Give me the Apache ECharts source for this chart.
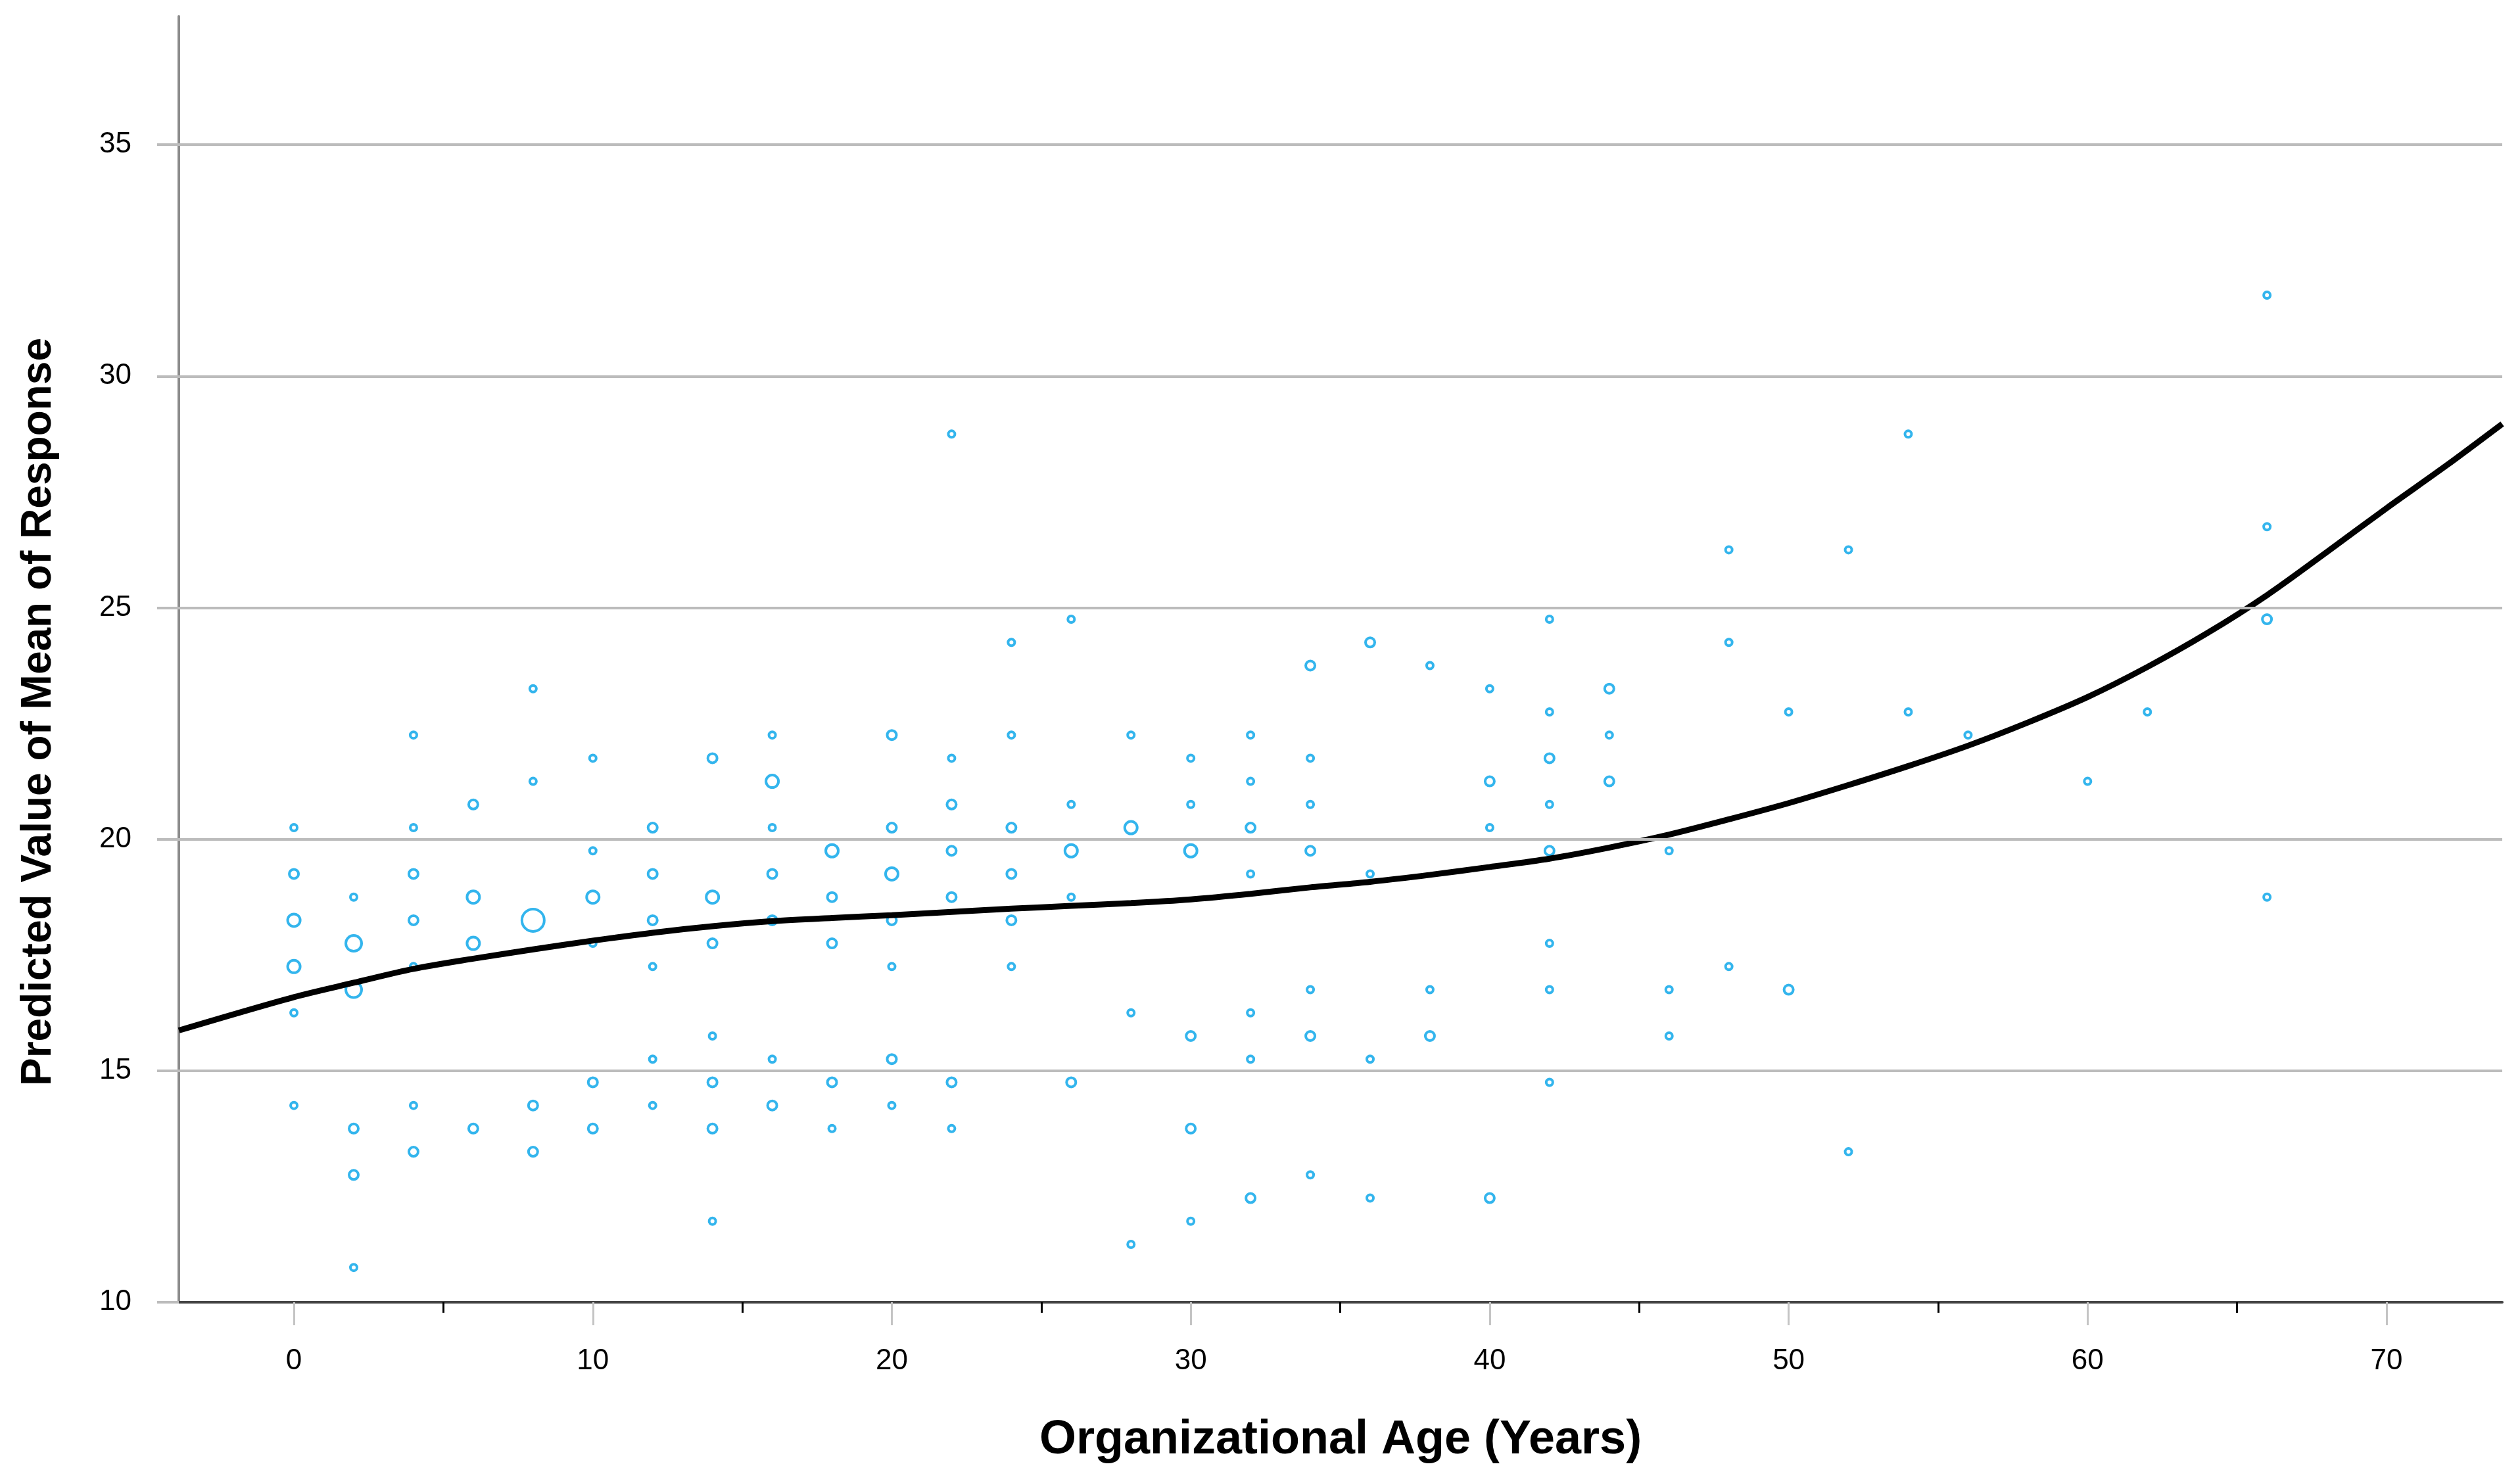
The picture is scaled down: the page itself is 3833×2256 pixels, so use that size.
<!DOCTYPE html>
<html><head><meta charset="utf-8">
<script src="https://cdn.jsdelivr.net/npm/echarts@6/dist/echarts.min.js"></script>
<style>html,body{margin:0;padding:0;background:#fff}#c{width:3833px;height:2256px}</style>
</head><body><div id="c"></div>
<script>
// ---- data ----
const xTickValues = [0, 10, 20, 30, 40, 50, 60, 70];
const xMinorTickValues = [5, 15, 25, 35, 45, 55, 65];
const yTickValues = [10, 15, 20, 25, 30, 35];
const xTitle = 'Organizational Age (Years)';
const yTitle = 'Predicted Value of Mean of Response';

const columnAges = [0, 2, 4, 6, 8, 10, 12, 14, 16, 18, 20, 22, 24, 26, 28, 30, 32, 34, 36, 38, 40, 42, 44, 46, 48, 50, 52, 54, 56, 60, 62, 66];
const columnMeans = [
  [20.25, 19.25, 18.25, 17.25, 16.25, 14.25],
  [18.75, 17.75, 16.75, 13.75, 12.75, 10.75],
  [22.25, 20.25, 19.25, 18.25, 17.25, 14.25, 13.25],
  [20.75, 18.75, 17.75, 13.75],
  [23.25, 21.25, 18.25, 14.25, 13.25],
  [21.75, 19.75, 18.75, 17.75, 14.75, 13.75],
  [20.25, 19.25, 18.25, 17.25, 15.25, 14.25],
  [21.75, 18.75, 17.75, 15.75, 14.75, 13.75, 11.75],
  [22.25, 21.25, 20.25, 19.25, 18.25, 15.25, 14.25],
  [19.75, 18.75, 17.75, 14.75, 13.75],
  [22.25, 20.25, 19.25, 18.25, 17.25, 15.25, 14.25],
  [28.75, 21.75, 20.75, 19.75, 18.75, 14.75, 13.75],
  [24.25, 22.25, 20.25, 19.25, 18.25, 17.25],
  [24.75, 20.75, 19.75, 18.75, 14.75],
  [22.25, 20.25, 16.25, 11.25],
  [21.75, 20.75, 19.75, 15.75, 13.75, 11.75],
  [22.25, 21.25, 20.25, 19.25, 16.25, 15.25, 12.25],
  [23.75, 21.75, 20.75, 19.75, 16.75, 15.75, 12.75],
  [24.25, 19.25, 15.25, 12.25],
  [23.75, 16.75, 15.75],
  [23.25, 21.25, 20.25, 12.25],
  [24.75, 22.75, 21.75, 20.75, 19.75, 17.75, 16.75, 14.75],
  [23.25, 22.25, 21.25],
  [19.75, 16.75, 15.75],
  [26.25, 24.25, 17.25],
  [22.75, 16.75],
  [26.25, 13.25],
  [28.75, 22.75],
  [22.25],
  [21.25],
  [22.75],
  [31.75, 26.75, 24.75, 18.75]
];
const columnCounts = [
  [1, 2, 3, 3, 1, 1],
  [1, 4, 4, 2, 2, 1],
  [1, 1, 2, 2, 1, 1, 2],
  [2, 3, 3, 2],
  [1, 1, 5, 2, 2],
  [1, 1, 3, 1, 2, 2],
  [2, 2, 2, 1, 1, 1],
  [2, 3, 2, 1, 2, 2, 1],
  [1, 3, 1, 2, 2, 1, 2],
  [3, 2, 2, 2, 1],
  [2, 2, 3, 2, 1, 2, 1],
  [1, 1, 2, 2, 2, 2, 1],
  [1, 1, 2, 2, 2, 1],
  [1, 1, 3, 1, 2],
  [1, 3, 1, 1],
  [1, 1, 3, 2, 2, 1],
  [1, 1, 2, 1, 1, 1, 2],
  [2, 1, 1, 2, 1, 2, 1],
  [2, 1, 1, 1],
  [1, 1, 2],
  [1, 2, 1, 2],
  [1, 1, 2, 1, 2, 1, 1, 1],
  [2, 1, 2],
  [1, 1, 1],
  [1, 1, 1],
  [1, 2],
  [1, 1],
  [1, 1],
  [1],
  [1],
  [1],
  [1, 1, 2, 1]
];

// fitted curve
const fitAge   = [-3.85, 0, 2, 4, 6, 8, 10, 12, 14, 16, 18, 20, 22, 24, 26, 28, 30, 32, 34, 36,
                  38, 40, 42, 44, 46, 48, 50, 52, 54, 56, 58, 60, 62, 64, 66, 68, 70, 72, 73.87];
const fitValue = [15.87, 16.59, 16.9, 17.2, 17.42, 17.62, 17.81, 17.98, 18.12, 18.23, 18.3, 18.36, 18.43, 18.5, 18.56, 18.62, 18.7, 18.82, 18.96, 19.08,
                  19.23, 19.4, 19.58, 19.82, 20.1, 20.43, 20.78, 21.17, 21.58, 22.02, 22.52, 23.07, 23.72, 24.45, 25.27, 26.2, 27.15, 28.07, 28.97];

// ---- build ----
const X_MIN = -3.85, X_MAX = 73.87, Y_MIN = 10, Y_MAX = 37.77;
const FONT = '"Liberation Sans", Arial, sans-serif';
const sizeFor = c => ({1: 10, 2: 14, 3: 19, 4: 24, 5: 34})[c];

const scatterData = [];
columnAges.forEach((age, i) => {
  columnMeans[i].forEach((m, j) => scatterData.push([age, m, columnCounts[i][j]]));
});
const fitData = fitAge.map((a, i) => [a, fitValue[i]]);

const gridPos = {left: 272, right: 27, top: 25, bottom: 275, containLabel: false};

const chart = echarts.init(document.getElementById('c'), null, {renderer: 'canvas'});
chart.setOption({
  animation: false,
  backgroundColor: '#ffffff',
  grid: [Object.assign({}, gridPos), Object.assign({}, gridPos)],
  xAxis: [{
    type: 'value', gridIndex: 0, min: X_MIN, max: X_MAX,
    name: xTitle, nameLocation: 'middle', nameGap: 174,
    nameTextStyle: {fontFamily: FONT, fontSize: 72, fontWeight: 'bold', color: '#000'},
    axisLine: {show: true, onZero: false, lineStyle: {color: '#444444', width: 4}},
    axisTick: {show: true, customValues: xTickValues, length: 35, lineStyle: {color: '#c4c4c4', width: 3}},
    axisLabel: {show: true, customValues: xTickValues, margin: 68, fontFamily: FONT, fontSize: 44, color: '#000'},
    splitLine: {show: false}
  }, {
    type: 'value', gridIndex: 1, min: X_MIN, max: X_MAX,
    axisLine: {show: false},
    axisTick: {show: true, customValues: xMinorTickValues, length: 16, lineStyle: {color: '#000', width: 3}},
    axisLabel: {show: false},
    splitLine: {show: false}
  }],
  yAxis: [{
    type: 'value', gridIndex: 0, min: Y_MIN, max: Y_MAX,
    axisLine: {show: true, onZero: false, lineStyle: {color: '#8c8c8c', width: 4}},
    axisTick: {show: true, customValues: yTickValues, length: 33, lineStyle: {color: '#bcbcbc', width: 4}},
    axisLabel: {show: true, customValues: yTickValues, margin: 72, fontFamily: FONT, fontSize: 44, color: '#000'},
    splitLine: {show: false}
  }, {
    type: 'value', gridIndex: 1, min: Y_MIN, max: Y_MAX, show: false
  }],
  graphic: [{
    type: 'text', x: 59, y: 1083, rotation: Math.PI / 2,
    style: {text: yTitle, fontFamily: FONT, fontSize: 64, fontWeight: 'bold', fill: '#000', align: 'center', verticalAlign: 'middle'}
  }],
  series: [{
    type: 'line', data: [], z: 1, silent: true,
    markLine: {
      silent: true, symbol: 'none', label: {show: false},
      lineStyle: {color: '#bcbcbc', width: 4, type: 'solid'},
      data: yTickValues.filter(v => v > Y_MIN).map(v => ({yAxis: v}))
    }
  }, {
    type: 'scatter', z: 2, silent: true,
    data: scatterData,
    symbol: 'circle',
    symbolSize: d => sizeFor(d[2]),
    itemStyle: {color: 'rgba(255,255,255,0)', borderColor: '#00a3e8', borderWidth: 4}
  }, {
    type: 'line', z: 3, silent: true,
    data: fitData, smooth: 0.3, showSymbol: false,
    lineStyle: {color: '#000', width: 9}
  }]
});
</script></body></html>
